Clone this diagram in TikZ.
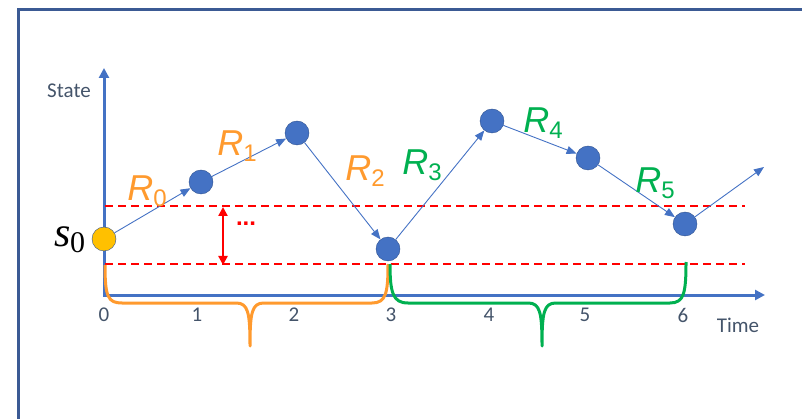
\documentclass[tikz,border=0pt]{standalone}
\usepackage{fontspec}
\setsansfont{Liberation Sans}
\newfontfamily\axisfont{Carlito}
\newfontfamily\statefont{Liberation Serif}
\usepackage{tikz}
\usetikzlibrary{arrows.meta}
\definecolor{nodeblue}{HTML}{4472C4}
\definecolor{nodeedge}{HTML}{2F528F}
\definecolor{rorange}{HTML}{FF9A2E}
\definecolor{rgreen}{HTML}{00B050}
\definecolor{axisgray}{HTML}{44546A}
\definecolor{framebl}{HTML}{3B5A94}
\definecolor{sun}{HTML}{FFC000}
\newcommand{\Rlab}[1]{{\itshape R}\raisebox{-6pt}{\fontsize{24}{24}\selectfont #1}}

\begin{document}
\begin{tikzpicture}[x=1pt,y=-1pt,
  st/.style={circle,draw=nodeedge,fill=nodeblue,minimum size=24pt,inner sep=0pt},
  st0/.style={st,fill=sun},
  arr/.style={-{Triangle[length=10pt,width=8pt]},nodeblue,line width=0.9pt},
  ax/.style={-{Triangle[length=10pt,width=10pt]},nodeblue,line width=3pt},
  band/.style={red,dash pattern=on 8pt off 5pt,line width=2.2pt},
  bracepath/.style={line width=3pt,line join=round},
  ticklab/.style={font=\axisfont\fontsize{21}{21}\selectfont,text=axisgray},
  rl/.style={font=\sffamily\fontsize{36}{36}\selectfont}]
\useasboundingbox (0,0) rectangle (802,419);
\draw[framebl,line width=3pt] (18.5,419) |- (802,9.5);
% axes
\coordinate (O) at (104,295);
\coordinate (ytop) at (104,68);
\coordinate (xend) at (765,295);
\draw[ax] (104,296.5) -- (ytop);
\draw[ax] (O) -- (xend);
\node[ticklab] (ylab) at (69,91) {State};
\node[ticklab] (xlab) at (738,325) {Time};
\foreach \t/\x in {0/104,1/197,2/294,3/391,4/489,5/585,6/683}
  \node[ticklab] (t\t) at (\x,315) {\t};
% band
\coordinate (upL) at (105,206);
\coordinate (upR) at (745,206);
\coordinate (loL) at (105,264);
\coordinate (loR) at (745,264);
\draw[band] (upL) -- (upR);
\draw[band] (loL) -- (loR);
\coordinate (gapT) at (223,207);
\coordinate (gapB) at (223,265);
\draw[{Triangle[length=9pt,width=9pt]}-{Triangle[length=9pt,width=9pt]},red,line width=2.5pt] (gapT) -- (gapB);
\node[red,font=\sffamily\bfseries\fontsize{24}{24}\selectfont] (dots) at (246,224) {...};
% braces
\draw[bracepath,rorange] (105,265) .. controls (105,297) and (108,303) .. (122,303) -- (236,303)
  .. controls (248,303) and (250,312) .. (250,346) .. controls (250,312) and (252,303) .. (264,303)
  -- (372,303) .. controls (386,303) and (388,293) .. (388,264);
\draw[bracepath,rgreen] (390,264) .. controls (390,293) and (393,303) .. (408,303) -- (528,303)
  .. controls (540,303) and (542,312) .. (542,346) .. controls (542,312) and (544,303) .. (556,303)
  -- (670,303) .. controls (684,303) and (686,293) .. (686,262);
% states
\node[st0] (s0) at (104,239) {};
\node[st] (n1) at (201,182) {};
\node[st] (n2) at (297,133) {};
\node[st] (n3) at (388,249) {};
\node[st] (n4) at (492,121) {};
\node[st] (n5) at (588,158) {};
\node[st] (n6) at (685,224) {};
\coordinate (nx) at (764,167);
\node[font=\statefont\fontsize{42}{42}\selectfont,inner sep=0pt] (s0lab) at (70,240)
  {{\itshape s}\kern-1pt\raisebox{-6pt}{\fontsize{30}{30}\selectfont 0}};
\draw[arr] (s0) -- (n1);
\draw[arr] (n1) -- (n2);
\draw[arr] (n2) -- (n3);
\draw[arr] (n3) -- (n4);
\draw[arr] (n4) -- (n5);
\draw[arr] (n5) -- (n6);
\draw[arr] (n6) -- (nx);
% rewards
\node[rl,rorange] (r0) at (147,191) {\Rlab{0}};
\node[rl,rorange] (r1) at (237,146) {\Rlab{1}};
\node[rl,rorange] (r2) at (365,171) {\Rlab{2}};
\node[rl,rgreen] (r3) at (422,165) {\Rlab{3}};
\node[rl,rgreen] (r4) at (543,123) {\Rlab{4}};
\node[rl,rgreen] (r5) at (655,183) {\Rlab{5}};
\end{tikzpicture}
\end{document}
